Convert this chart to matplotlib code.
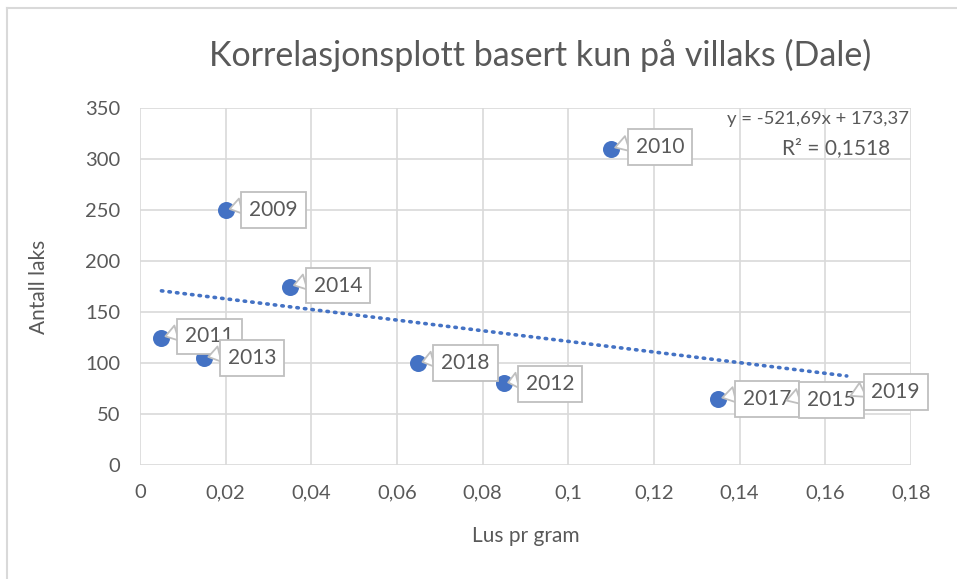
import numpy as np
import matplotlib
matplotlib.use("Agg")
from matplotlib import pyplot as plt
from matplotlib.lines import Line2D

plt.rcParams['font.family'] = ['Lato', 'DejaVu Sans']

# data
years = ['2009', '2010', '2011', '2012', '2013', '2014', '2015', '2017', '2018', '2019']
lus_pr_gram = [0.02, 0.11, 0.005, 0.085, 0.015, 0.035, 0.15, 0.135, 0.065, 0.165]
antall_laks = [250, 310, 125, 80, 105, 175, 62, 65, 100, 66]

x_ticklabels = ['0', '0,02', '0,04', '0,06', '0,08', '0,1', '0,12', '0,14', '0,16', '0,18']

# label box offsets (pixels) from each point, as dragged in the original
label_offsets = {
    '2009': (48, 0), '2010': (49, 2), '2011': (48, 1), '2012': (46, -1),
    '2013': (48, 0), '2014': (48, 1), '2015': (49, 2), '2017': (49, 0),
    '2018': (47, 0), '2019': (49, 6),
}
draw_order = ['2009', '2010', '2014', '2018', '2012', '2011', '2013', '2017', '2015', '2019']

# trendline from the chart's equation
slope, intercept = -521.69, 173.37

GREY = '#595959'
GRID = '#d9d9d9'
BLUE = '#4472C4'

fig = plt.figure(figsize=(9.57, 5.79), dpi=100)
ax = fig.add_axes([140 / 957, 114 / 579, 771 / 957, 357 / 579])

ax.set_xlim(0, 0.18)
ax.set_ylim(0, 350)
ax.set_xticks(np.linspace(0, 0.18, 10))
ax.set_yticks(np.arange(0, 351, 50))
ax.set_xticklabels(x_ticklabels)
ax.grid(True, color=GRID, lw=1.2)
ax.set_axisbelow(True)
for s in ax.spines.values():
    s.set_visible(False)
ax.tick_params(length=0, labelsize=14.5, colors=GREY, pad=14)

# trendline
xs = np.array([min(lus_pr_gram), max(lus_pr_gram)])
ax.plot(xs, slope * xs + intercept, color=BLUE, lw=2.6,
        linestyle=(0, (0.4, 1.7)), dash_capstyle='round', zorder=3)

ax.scatter(lus_pr_gram, antall_laks, s=150, color=BLUE, zorder=4, linewidths=0)

# callout labels
for i, yr in enumerate(draw_order):
    k = years.index(yr)
    dx, dy = label_offsets[yr]
    ax.annotate(yr, (lus_pr_gram[k], antall_laks[k]), xytext=(dx, dy),
                textcoords='offset pixels', ha='center', va='center',
                fontsize=15, color=GREY, zorder=5 + i,
                bbox=dict(boxstyle='square,pad=0.38', fc='white', ec='#bfbfbf', lw=1.3),
                arrowprops=dict(arrowstyle='wedge,tail_width=0.75,shrink_factor=0.5',
                                fc='white', ec='#bfbfbf', lw=1.3, relpos=(0.0, 0.8),
                                shrinkA=0, shrinkB=3))

ax.text(0.1795, 339, 'y = -521,69x + 173,37', ha='right', va='center',
        fontsize=13.3, color=GREY, zorder=20)
ax.text(0.1625, 311, 'R² = 0,1518', ha='center', va='center',
        fontsize=15, color=GREY, zorder=20)

ax.set_xlabel('Lus pr gram', fontsize=15, color=GREY, labelpad=18)
ax.set_ylabel('Antall laks', fontsize=15, color=GREY, labelpad=26)

fig.text(540 / 957, 1 - 55 / 579, 'Korrelasjonsplott basert kun på villaks (Dale)',
         ha='center', va='center', fontsize=24.5, color=GREY)

# chart area border
fig.add_artist(Line2D([7.5 / 957, 7.5 / 957], [0, 1 - 7.5 / 579], transform=fig.transFigure,
                      color=GRID, lw=1.5))
fig.add_artist(Line2D([7.5 / 957, 1], [1 - 7.5 / 579, 1 - 7.5 / 579], transform=fig.transFigure,
                      color=GRID, lw=1.5))

fig.savefig('out.png', dpi=100, facecolor='white')
